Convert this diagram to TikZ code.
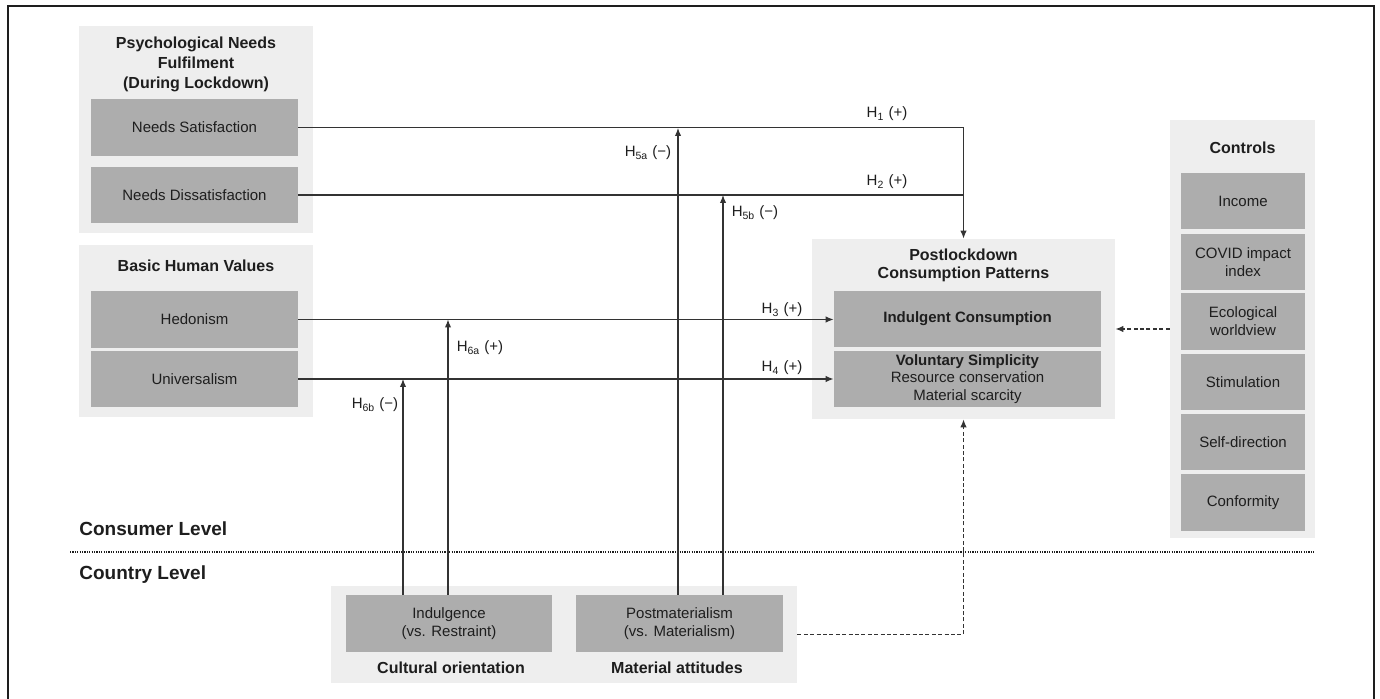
\documentclass[tikz,border=0pt]{standalone}
\usepackage{fontspec}
\setmainfont{Liberation Sans}
\usetikzlibrary{arrows.meta}
\definecolor{panelgray}{HTML}{EEEEEE}
\definecolor{boxgray}{HTML}{ADADAD}
\definecolor{ink}{HTML}{1E1E1E}
\definecolor{linegray}{HTML}{333333}
\begin{document}
\begin{tikzpicture}[x=0.5pt,y=-0.5pt,
 panel/.style={fill=panelgray, draw=none, inner sep=0pt},
 vbox/.style={fill=boxgray, draw=none, inner sep=0pt, text=ink, font=\fontsize{7.5}{9}\selectfont, align=center},
 ttl/.style={text=ink, font=\bfseries\fontsize{8}{9}\selectfont, align=center, inner sep=0pt},
 lvl/.style={text=ink, font=\bfseries\fontsize{9.5}{11}\selectfont, anchor=west, inner sep=0pt},
 hlab/.style={text=ink, font=\fontsize{7.5}{9}\selectfont, inner sep=0pt},
 conn/.style={draw=linegray, line width=0.55pt},
 arr/.style={conn, -{Latex[length=4pt,width=3.2pt]}},
 darr/.style={arr, dash pattern=on 2pt off 1.2pt},
]
\useasboundingbox (0,0) rectangle (1380,699);
\fill[white] (0,0) rectangle (1380,699);
% frame
\draw[ink, line width=0.8pt] (8,699) -- (8,6) -- (1374,6) -- (1374,699);

% ---- Psychological needs panel
\node[panel, minimum width=117pt, minimum height=103.5pt] (pn) at (196,129.5) {};
\node[ttl, font=\bfseries\fontsize{8}{10.2}\selectfont] (pnt) at (196,64.5) {Psychological Needs\\Fulfilment\\(During Lockdown)};
\node[vbox, minimum width=103.5pt, minimum height=28.5pt] (ns) at (194.5,127.5) {Needs Satisfaction};
\node[vbox, minimum width=103.5pt, minimum height=28pt] (nd) at (194.5,195) {Needs Dissatisfaction};

% ---- Basic human values panel
\node[panel, minimum width=117pt, minimum height=86pt] (bhv) at (196,331) {};
\node[ttl] (bhvt) at (196,266) {Basic Human Values};
\node[vbox, minimum width=103.5pt, minimum height=28.5pt] (hed) at (194.5,319.5) {Hedonism};
\node[vbox, minimum width=103.5pt, minimum height=28pt] (uni) at (194.5,379) {Universalism};

% ---- Postlockdown panel
\node[panel, minimum width=151.5pt, minimum height=90pt] (pcp) at (963.5,329) {};
\node[ttl] (pcpt) at (963.5,265) {Postlockdown\\Consumption Patterns};
\node[vbox, minimum width=133.5pt, minimum height=28pt] (ind) at (967.5,319) {\bfseries Indulgent Consumption};
\node[vbox, minimum width=133.5pt, minimum height=28pt, font=\fontsize{7.5}{8.75}\selectfont] (vol) at (967.5,379) {\textbf{Voluntary Simplicity}\\Resource conservation\\Material scarcity};

% ---- Controls panel
\node[panel, minimum width=72.5pt, minimum height=209pt] (ctl) at (1242.5,329) {};
\node[ttl] (ctlt) at (1242.5,148) {Controls};
\node[vbox, minimum width=62pt, minimum height=28pt] (c1) at (1243,201) {Income};
\node[vbox, minimum width=62pt, minimum height=28pt] (c2) at (1243,262) {COVID impact\\index};
\node[vbox, minimum width=62pt, minimum height=28.5pt] (c3) at (1243,321.5) {Ecological\\worldview};
\node[vbox, minimum width=62pt, minimum height=28pt] (c4) at (1243,382) {Stimulation};
\node[vbox, minimum width=62pt, minimum height=28pt] (c5) at (1243,442) {Self-direction};
\node[vbox, minimum width=62pt, minimum height=28.5pt] (c6) at (1243,502.5) {Conformity};

% ---- Country panel
\node[panel, minimum width=233pt, minimum height=48.5pt] (cty) at (564,634.5) {};
\node[vbox, minimum width=103pt, minimum height=28.5pt] (indg) at (449,623.5) {Indulgence\\(vs. Restraint)};
\node[vbox, minimum width=103.5pt, minimum height=28.5pt] (pm) at (679.5,623.5) {Postmaterialism\\(vs. Materialism)};
\node[ttl] (cult) at (451,668) {Cultural orientation};
\node[ttl] (mata) at (677,668) {Material attitudes};

% ---- levels
\node[lvl] (cons) at (79,529) {Consumer Level};
\node[lvl] (ctry) at (79,575) {Country Level};
\coordinate (dl) at (70,552);
\coordinate (dr) at (1315,552);
\draw[ink, line width=0.75pt, dash pattern=on 0.6pt off 0.6pt] (dl) -- (dr);

% ---- main paths
\draw[arr] (ns.east) -| (pcp.north);
\draw[conn] (nd.east) -- (nd.east -| pcp.north);
\draw[arr] (hed.east) -- (hed.east -| ind.west);
\draw[arr] (uni.east) -- (uni.east -| vol.west);
\draw[darr] (ctl.west) -- (pcp.east);
\draw[darr] (cty.east) -| (pcp.south);

% ---- moderators
\coordinate (m5a) at (678,128);
\coordinate (m5b) at (723,195);
\coordinate (m6a) at (448,319.5);
\coordinate (m6b) at (403,379);
\draw[arr] (m5a |- pm.north) -- (m5a);
\draw[arr] (m5b |- pm.north) -- (m5b);
\draw[arr] (m6a |- indg.north) -- (m6a);
\draw[arr] (m6b |- indg.north) -- (m6b);

% ---- labels
\node[hlab] (h1) at (887,114) {H\textsubscript{1} (+)};
\node[hlab] (h2) at (887,182) {H\textsubscript{2} (+)};
\node[hlab] (h3) at (782,310) {H\textsubscript{3} (+)};
\node[hlab] (h4) at (782,368) {H\textsubscript{4} (+)};
\node[hlab] (h5a) at (648,153) {H\textsubscript{5a} (−)};
\node[hlab] (h5b) at (755,213) {H\textsubscript{5b} (−)};
\node[hlab] (h6a) at (480,348) {H\textsubscript{6a} (+)};
\node[hlab] (h6b) at (375,405) {H\textsubscript{6b} (−)};
\end{tikzpicture}
\end{document}
